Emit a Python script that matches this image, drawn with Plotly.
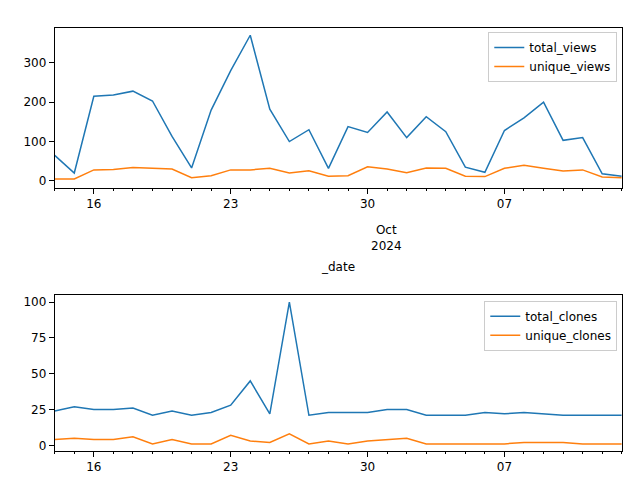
import pandas as pd
import plotly.graph_objects as go
from plotly.subplots import make_subplots

dates = pd.date_range("2024-09-14", "2024-10-13", freq="D")
total_views = [65, 20, 215, 218, 228, 203, 113, 33, 180, 280, 370, 182, 100, 130, 32,
               138, 123, 175, 110, 163, 125, 35, 22, 128, 160, 200, 103, 110, 18, 12]
unique_views = [5, 5, 28, 29, 34, 32, 30, 8, 13, 28, 28, 32, 20, 26, 12,
                13, 36, 30, 21, 33, 32, 12, 11, 32, 40, 32, 25, 28, 10, 8]
total_clones = [24, 27, 25, 25, 26, 21, 24, 21, 23, 28, 45, 22, 100, 21, 23,
                23, 23, 25, 25, 21, 21, 21, 23, 22, 23, 22, 21, 21, 21, 21]
unique_clones = [4, 5, 4, 4, 6, 1, 4, 1, 1, 7, 3, 2, 8, 1, 3,
                 1, 3, 4, 5, 1, 1, 1, 1, 1, 2, 2, 2, 1, 1, 1]
tick_dates = ["2024-09-16", "2024-09-23", "2024-09-30", "2024-10-07"]
tick_text = ["16", "23", "30", "07"]

blue, orange = "#1f77b4", "#ff7f0e"
fig = make_subplots(rows=2, cols=1)
fig.add_trace(go.Scatter(x=dates, y=total_views, name="total_views", line=dict(color=blue, width=1.5), legend="legend"), 1, 1)
fig.add_trace(go.Scatter(x=dates, y=unique_views, name="unique_views", line=dict(color=orange, width=1.5), legend="legend"), 1, 1)
fig.add_trace(go.Scatter(x=dates, y=total_clones, name="total_clones", line=dict(color=blue, width=1.5), legend="legend2"), 2, 1)
fig.add_trace(go.Scatter(x=dates, y=unique_clones, name="unique_clones", line=dict(color=orange, width=1.5), legend="legend2"), 2, 1)

ax = dict(showline=True, mirror=True, linecolor="black", linewidth=1, showgrid=False, zeroline=False,
          ticks="outside", tickcolor="black", tickfont=dict(size=12, color="black"), automargin=False)
for r in (1, 2):
    fig.update_xaxes(range=[dates[0], dates[-1]], tickvals=tick_dates, ticktext=tick_text,
                     domain=[0.073, 0.959], minor=dict(ticks="outside", dtick=86400000, ticklen=2, tickcolor="black"),
                     row=r, col=1, **ax)
fig.update_yaxes(range=[-18, 388], tickvals=[0, 100, 200, 300], domain=[0.625, 0.958], row=1, col=1, **ax)
fig.update_yaxes(range=[-4, 105], tickvals=[0, 25, 50, 75, 100], domain=[0.077, 0.402], row=2, col=1, **ax)

leg = dict(bgcolor="rgba(255,255,255,0.8)", bordercolor="#cccccc", borderwidth=1,
           font=dict(size=12, color="black"), xanchor="right", yanchor="top")
fig.update_layout(
    width=640, height=480, margin=dict(l=0, r=0, t=0, b=0, autoexpand=False),
    plot_bgcolor="white", paper_bgcolor="white",
    font=dict(family="DejaVu Sans"),
    legend=dict(x=0.952, y=0.95, **leg),
    legend2=dict(x=0.952, y=0.39, **leg),
    annotations=[
        dict(text="Oct<br>2024", x=0.592, y=0.52, xref="paper", yref="paper", showarrow=False,
             font=dict(size=12, color="black")),
        dict(text="_date", x=0.516, y=0.46, xref="paper", yref="paper", showarrow=False,
             font=dict(size=12, color="black")),
    ],
)
fig.write_html("out.html")
